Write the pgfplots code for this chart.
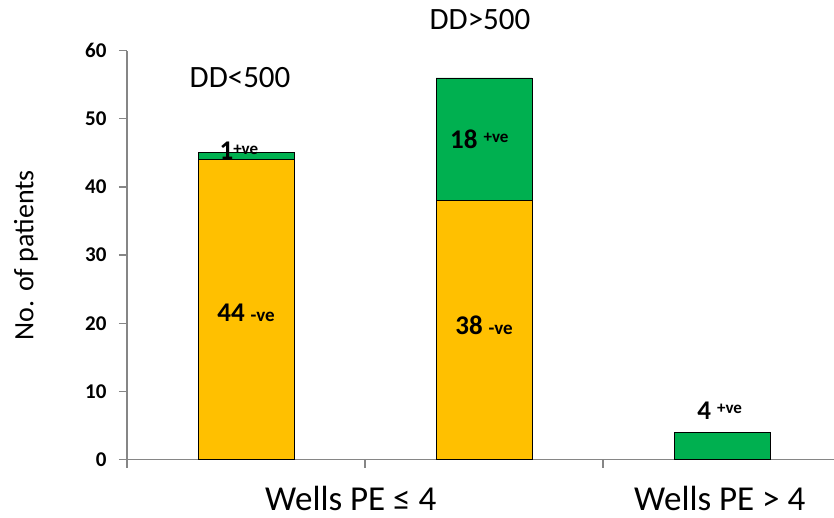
\documentclass[border=0pt]{standalone}
\usepackage{pgfplots}
\pgfplotsset{compat=1.18}
\usepackage{fontspec}
\setmainfont{Carlito}
\definecolor{barorange}{HTML}{FFC000}
\definecolor{bargreen}{HTML}{00B050}
\definecolor{axisgray}{HTML}{868686}
\newcommand{\fs}[1]{\fontsize{#1bp}{#1bp}\selectfont}
\begin{document}
\begin{tikzpicture}
\useasboundingbox (-127bp,-58.5bp) rectangle (707bp,459.5bp);
\begin{axis}[
    at={(0,0)}, anchor=south west,
    scale only axis, width=707bp, height=408.8bp,
    xmin=-0.5, xmax=2.47, ymin=0, ymax=60,
    axis x line*=bottom, axis y line*=left,
    axis line style={axisgray, line width=1.3bp},
    xtick={-0.5,0.5,1.5}, xticklabels={},
    ytick={0,10,...,60},
    tick style={axisgray, line width=1.3bp},
    tick align=outside, major tick length=8bp,
    yticklabel style={font=\fs{21}\bfseries, xshift=-9bp,
        /pgf/number format/assume math mode=true},
    ybar stacked, bar width=0.403,
    clip=false,
    ylabel={No. of patients},
    ylabel style={font=\fs{28}, at={(axis description cs:-0.143,0.5)}, anchor=center},
]
\addplot[fill=barorange, draw=black, line width=0.8bp] coordinates {(0,44) (1,38) (2,0)};
\addplot[fill=bargreen, draw=black, line width=0.8bp] coordinates {(0,1) (1,18) (2,4)};

\coordinate (l44) at (axis cs:0,20.2);
\coordinate (l38) at (axis cs:1,18.3);
\coordinate (l18) at (axis cs:0.98,45.7);
\coordinate (l1) at (axis cs:-0.03,44.0);
\coordinate (l4) at (axis cs:1.99,5.8);
\coordinate (dlo) at (axis cs:-0.025,54.55);
\coordinate (dhi) at (axis cs:0.983,63.1);
\coordinate (wle) at (axis cs:0.44,0);
\coordinate (wgt) at (axis cs:1.99,0);
\end{axis}
\node[anchor=base, font=\bfseries] at (l44) {\fs{27}44\hspace{6bp}\fs{19}-ve};
\node[anchor=base, font=\bfseries] at (l38) {\fs{27}38\hspace{6bp}\fs{19}-ve};
\node[anchor=base, font=\bfseries] at (l18) {\fs{27}18\hspace{6bp}\raisebox{6bp}{\fs{17}+ve}};
\node[anchor=base, font=\bfseries] at (l1) {\fs{27}1\raisebox{5bp}{\fs{17}+ve}};
\node[anchor=base, font=\bfseries] at (l4) {\fs{27}4\hspace{6bp}\raisebox{6bp}{\fs{17}+ve}};

\node[anchor=base, font=\fs{31}] at (dlo) {DD<500};
\node[anchor=base, font=\fs{31}] at (dhi) {DD>500};

\node[anchor=base, inner sep=0pt, font=\fs{35}] at (wle) [yshift=-50.5bp] {Wells PE ≤ 4};
\node[anchor=base, inner sep=0pt, font=\fs{35}] at (wgt) [yshift=-50.5bp] {Wells PE > 4};
\end{tikzpicture}
\end{document}
